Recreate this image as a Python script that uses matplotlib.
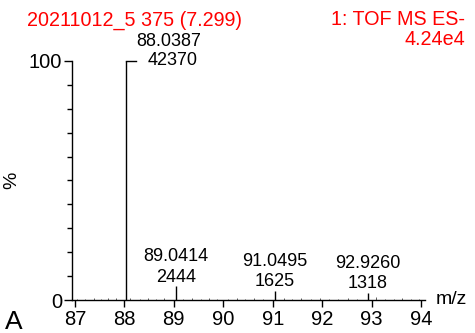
import matplotlib
matplotlib.use("Agg")
import matplotlib.pyplot as plt

plt.rcParams['font.family'] = ['Liberation Sans', 'DejaVu Sans']

# labelled peaks
peak_mz = [88.0387, 89.0414, 91.0495, 92.9260]
peak_int = [42370, 2444, 1625, 1318]
base_peak = 42370

# small baseline peaks (m/z, % of base peak)
noise_mz = [87.05, 87.21, 87.38, 87.52, 87.66, 87.83, 88.12, 88.31, 88.47, 88.63,
            88.80, 89.18, 89.36, 89.55, 89.71, 89.88, 90.10, 90.27, 90.44, 90.62,
            90.81, 91.22, 91.40, 91.58, 91.77, 91.95, 92.14, 92.33, 92.52, 92.70,
            93.10, 93.28, 93.45, 93.62, 93.80, 93.96]
noise_pct = [0.6, 0.4, 0.8, 0.5, 0.7, 0.9, 1.0, 0.6, 0.8, 0.5,
             0.7, 0.6, 0.9, 0.5, 0.7, 0.4, 0.6, 0.8, 0.5, 0.7,
             0.6, 0.9, 0.5, 0.7, 0.4, 0.8, 0.6, 0.5, 0.7, 0.6,
             1.1, 0.6, 0.5, 0.8, 0.6, 0.4]

xticks = [87, 88, 89, 90, 91, 92, 93, 94]

fig = plt.figure(figsize=(4.75, 3.33), dpi=100)
ax = fig.add_axes([0.1516, 0.099, 0.743, 0.718])

pct = [v / base_peak * 100 for v in peak_int]
ax.vlines(noise_mz, 0, noise_pct, color='#444444', lw=0.6)
ax.vlines(peak_mz, 0, pct, color='black', lw=1.0)

# main peak label with leader line
ax.plot([peak_mz[0], peak_mz[0] + 0.2], [pct[0], pct[0]], color='black', lw=1.0, clip_on=False)
ax.annotate(f"{peak_mz[0]:.4f}", (peak_mz[0] + 0.2, pct[0]), xytext=(0, 14),
            textcoords='offset points', ha='left', va='center', fontsize=13, annotation_clip=False)
ax.annotate(f"{peak_int[0]}", (peak_mz[0] + 0.93, pct[0]), xytext=(0, 0),
            textcoords='offset points', ha='center', va='center', fontsize=13, annotation_clip=False)

for mz, p, inten in zip(peak_mz[1:], pct[1:], peak_int[1:]):
    ax.annotate(f"{mz:.4f}\n{inten}", (mz, p), xytext=(0, 0.5), textcoords='offset points',
                ha='center', va='bottom', fontsize=13, linespacing=1.25, annotation_clip=False)

ax.set_xlim(86.94, 94.08)
ax.set_ylim(0, 100)
ax.set_xticks(xticks)
ax.set_xticklabels([str(t) for t in xticks])
ax.set_yticks([0, 100])
ax.set_yticks(range(10, 100, 10), minor=True)
ax.tick_params(axis='both', labelsize=14.5, width=1.0)
ax.tick_params(axis='x', length=5, pad=2)
ax.tick_params(axis='y', which='major', length=6, pad=1)
ax.tick_params(axis='y', which='minor', length=3.5, width=1.0)
for s in ['top', 'right']:
    ax.spines[s].set_visible(False)
ax.spines['left'].set_linewidth(1.0)
ax.spines['bottom'].set_linewidth(1.0)

ax.set_ylabel('%', fontsize=14, labelpad=6)

fig.text(0.057, 0.94, '20211012_5 375 (7.299)', color='red', fontsize=14.2, ha='left', va='center')
fig.text(0.979, 0.94, '1: TOF MS ES-', color='red', fontsize=14.2, ha='right', va='center')
fig.text(0.979, 0.88, '4.24e4', color='red', fontsize=14.2, ha='right', va='center')
fig.text(0.918, 0.1, 'm/z', fontsize=14, ha='left', va='center')
fig.text(0.01, 0.033, 'A', fontsize=19, ha='left', va='center')

fig.savefig('out.png', dpi=100)
